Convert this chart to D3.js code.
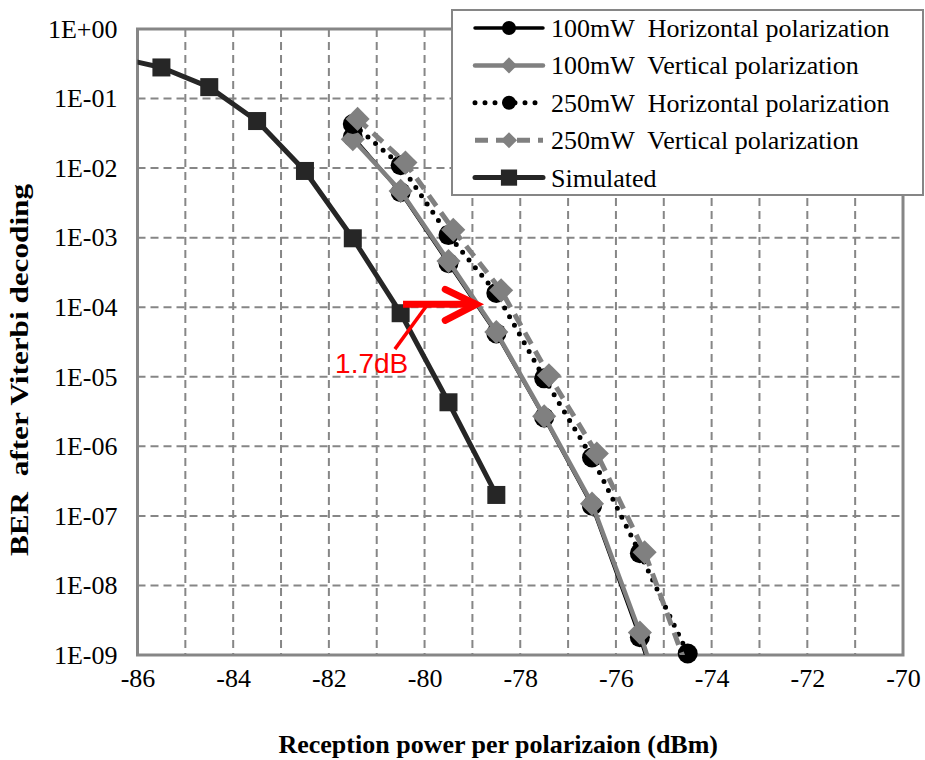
<!DOCTYPE html>
<html>
<head>
<meta charset="utf-8">
<script src="https://cdn.jsdelivr.net/npm/d3@7/dist/d3.min.js"></script>
<style>
  html, body { margin: 0; padding: 0; background: #fff; }
  svg { display: block; }
  text { white-space: pre; }
</style>
</head>
<body>
<svg id="chart" width="925" height="760"></svg>
<script>
// ---------------- data ----------------
const xTicks = [-86, -84, -82, -80, -78, -76, -74, -72, -70];
const xTickLabels = ["-86", "-84", "-82", "-80", "-78", "-76", "-74", "-72", "-70"];
const xGrid = d3.range(-86, -69, 1);
const yTicks = [1, 1e-1, 1e-2, 1e-3, 1e-4, 1e-5, 1e-6, 1e-7, 1e-8, 1e-9];
const yTickLabels = ["1E+00", "1E-01", "1E-02", "1E-03", "1E-04", "1E-05", "1E-06", "1E-07", "1E-08", "1E-09"];

const seriesNames = [
  "100mW\u00A0 Horizontal polarization",
  "100mW\u00A0 Vertical polarization",
  "250mW\u00A0 Horizontal polarization",
  "250mW\u00A0 Vertical polarization",
  "Simulated"
];

const x100H = [-81.5, -80.5, -79.5, -78.5, -77.5, -76.5, -75.5, -74.5];
const ber100H = [2.8e-2, 4.5e-3, 4.3e-4, 4.2e-5, 2.6e-6, 1.4e-7, 1.8e-9, 1.4e-11];

const x100V = [-81.5, -80.5, -79.5, -78.5, -77.5, -76.5, -75.5, -74.5];
const ber100V = [2.6e-2, 4.7e-3, 4.6e-4, 4.4e-5, 2.7e-6, 1.5e-7, 2.1e-9, 1.5e-11];

const x250H = [-81.5, -80.5, -79.5, -78.5, -77.5, -76.5, -75.5, -74.5];
const ber250H = [4.3e-2, 1.1e-2, 1.09e-3, 1.6e-4, 9.5e-6, 6.9e-7, 2.9e-8, 1.05e-9];

const x250V = [-81.4, -80.4, -79.4, -78.4, -77.4, -76.4, -75.4, -74.4];
const ber250V = [5.1e-2, 1.2e-2, 1.3e-3, 1.75e-4, 1.05e-5, 7.9e-7, 3.0e-8, 4e-10];

const xSim = [-86.5, -85.5, -84.5, -83.5, -82.5, -81.5, -80.5, -79.5, -78.5];
const berSim = [0.4, 0.28, 0.146, 0.0475, 0.0091, 0.00098, 8.2e-5, 4.3e-6, 2.0e-7];

// annotation (data units)
const arrowX = [-80.45, -78.92];
const arrowBER = 1.1e-4;
const leaderX = [-79.95, -80.62];
const leaderBER = [1.07e-4, 2.5e-5];
const annoText = "1.7dB";
const annoTextX = -81.87;
const annoTextBER = 1.15e-5;

// ---------------- layout ----------------
const svg = d3.select("#chart");
const L = 137.5, R = 903, T = 29, B = 655;
const x = d3.scaleLinear().domain([-86, -70]).range([L, R]);
const y = d3.scaleLog().domain([1e-9, 1]).range([B, T]);

const GRID = "#868686";
const serif = "'Liberation Serif', 'Times New Roman', serif";

svg.append("defs").append("clipPath").attr("id", "plotclip")
  .append("rect").attr("x", L).attr("y", T).attr("width", R - L).attr("height", B - T);

// grid
const g = svg.append("g");
g.selectAll("line.vg").data(xGrid.filter(d => d > -86 && d < -70)).enter().append("line")
  .attr("x1", d => x(d)).attr("x2", d => x(d)).attr("y1", T).attr("y2", B)
  .attr("stroke", GRID).attr("stroke-width", 2).attr("stroke-dasharray", "8,5");
g.selectAll("line.hg").data(yTicks.filter(d => d < 1 && d > 1e-9)).enter().append("line")
  .attr("x1", L).attr("x2", R).attr("y1", d => y(d)).attr("y2", d => y(d))
  .attr("stroke", GRID).attr("stroke-width", 2).attr("stroke-dasharray", "8,5");

// frame
svg.append("rect").attr("x", L).attr("y", T).attr("width", R - L).attr("height", B - T)
  .attr("fill", "none").attr("stroke", GRID).attr("stroke-width", 3);

// axes (labels)
const xAxis = d3.axisBottom(x).tickValues(xTicks).tickSize(0).tickPadding(14)
  .tickFormat((d, i) => xTickLabels[i]);
const xa = svg.append("g").attr("transform", `translate(0,${B})`).call(xAxis);
xa.select(".domain").remove();
xa.selectAll("text").attr("font-family", serif).attr("font-size", 26).attr("fill", "#000");

const yAxis = d3.axisLeft(y).tickValues(yTicks).tickSize(0).tickPadding(20)
  .tickFormat((d, i) => yTickLabels[i]);
const ya = svg.append("g").attr("transform", `translate(${L},0)`).call(yAxis);
ya.select(".domain").remove();
ya.selectAll("text").attr("font-family", serif).attr("font-size", 26).attr("fill", "#000");

// titles
svg.append("text").attr("x", (L + R) / 2 - 22).attr("y", 753).attr("text-anchor", "middle")
  .attr("font-family", serif).attr("font-weight", "bold").attr("font-size", 26)
  .text("Reception power per polarizaion (dBm)");
svg.append("text").attr("transform", `translate(28,${(T + B) / 2 + 28}) rotate(-90)`)
  .attr("text-anchor", "middle")
  .attr("textLength", 372).attr("lengthAdjust", "spacingAndGlyphs")
  .attr("font-family", serif).attr("font-weight", "bold").attr("font-size", 26)
  .text("BER\u00A0 after Viterbi decoding");

// series
const line = d3.line().x(d => x(d[0])).y(d => y(d[1]));
const inDomain = d => d[0] >= -86 && d[0] <= -70 && d[1] >= 1e-9 * 0.999 && d[1] <= 1;

const series = [
  { xs: x100H, ys: ber100H, color: "#000", width: 3.5, dash: null, cap: "butt", marker: "circle", mcolor: "#000", size: 10 },
  { xs: x100V, ys: ber100V, color: "#808080", width: 4.5, dash: null, cap: "butt", marker: "diamond", mcolor: "#808080", size: 10.5 },
  { xs: x250H, ys: ber250H, color: "#000", width: 5, dash: "0,10", cap: "round", marker: "circle", mcolor: "#000", size: 10 },
  { xs: x250V, ys: ber250V, color: "#808080", width: 5, dash: "13,8", cap: "butt", marker: "diamond", mcolor: "#808080", size: 10.5 },
  { xs: xSim, ys: berSim, color: "#262626", width: 5, dash: null, cap: "butt", marker: "square", mcolor: "#262626", size: 10 }
];

function drawMarker(sel, type, color, size) {
  if (type === "circle") {
    sel.append("circle").attr("r", size).attr("fill", color);
  } else if (type === "diamond") {
    const s = size * 1.15;
    sel.append("path").attr("d", `M0,${-s}L${s},0L0,${s}L${-s},0Z`).attr("fill", color);
  } else {
    const s = size * 0.9;
    sel.append("rect").attr("x", -s).attr("y", -s).attr("width", 2 * s).attr("height", 2 * s).attr("fill", color);
  }
}

series.forEach(s => {
  const pts = s.xs.map((v, i) => [v, s.ys[i]]);
  const sg = svg.append("g");
  sg.append("path").datum(pts).attr("d", line)
    .attr("clip-path", "url(#plotclip)")
    .attr("fill", "none").attr("stroke", s.color).attr("stroke-width", s.width)
    .attr("stroke-dasharray", s.dash).attr("stroke-linecap", s.cap).attr("stroke-linejoin", "round");
  sg.selectAll("g.m").data(pts.filter(inDomain)).enter().append("g")
    .attr("transform", d => `translate(${x(d[0])},${y(d[1])})`)
    .each(function () { drawMarker(d3.select(this), s.marker, s.mcolor, s.size); });
});

// annotation
const RED = "#ff0000";
svg.append("line").attr("x1", x(arrowX[0])).attr("x2", x(arrowX[1]))
  .attr("y1", y(arrowBER)).attr("y2", y(arrowBER))
  .attr("stroke", RED).attr("stroke-width", 7);
const tipX = x(arrowX[1]), tipY = y(arrowBER);
svg.append("path")
  .attr("d", `M${tipX - 31},${tipY - 15}L${tipX},${tipY}L${tipX - 31},${tipY + 16}`)
  .attr("fill", "none").attr("stroke", RED).attr("stroke-width", 7)
  .attr("stroke-linecap", "round").attr("stroke-linejoin", "miter");
svg.append("line").attr("x1", x(leaderX[0])).attr("x2", x(leaderX[1]))
  .attr("y1", y(leaderBER[0])).attr("y2", y(leaderBER[1]))
  .attr("stroke", RED).attr("stroke-width", 3.5);
svg.append("text").attr("x", x(annoTextX)).attr("y", y(annoTextBER))
  .attr("font-family", "'Liberation Sans', Arial, sans-serif").attr("font-size", 28)
  .attr("fill", RED).text(annoText);

// legend
const lg = svg.append("g");
lg.append("rect").attr("x", 452).attr("y", 10).attr("width", 471).attr("height", 185)
  .attr("fill", "#fff").attr("stroke", GRID).attr("stroke-width", 2);
const rowY = i => 28 + i * 37.4;
seriesNames.forEach((name, i) => {
  const s = series[i];
  const cy = rowY(i);
  lg.append("line").attr("x1", 475).attr("x2", 543).attr("y1", cy).attr("y2", cy)
    .attr("stroke", s.color).attr("stroke-width", s.width)
    .attr("stroke-dasharray", s.dash).attr("stroke-linecap", s.dash ? s.cap : "round");
  const mg = lg.append("g").attr("transform", `translate(509,${cy})`);
  drawMarker(mg, s.marker, s.mcolor, i === 4 ? 9 : 7);
  lg.append("text").attr("x", 551).attr("y", cy + 9)
    .attr("font-family", serif).attr("font-size", 26).attr("fill", "#000").text(name);
});
</script>
</body>
</html>
